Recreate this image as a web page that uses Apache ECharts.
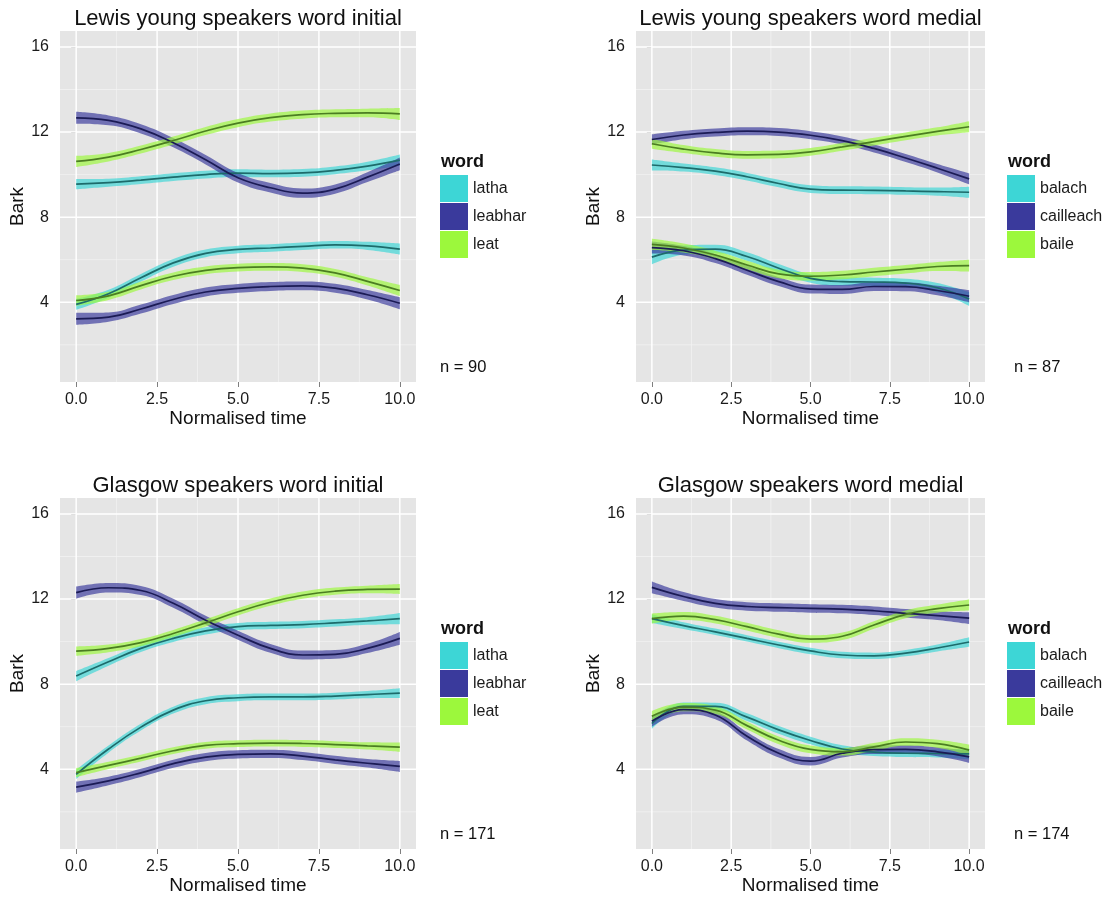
<!DOCTYPE html>
<html>
<head>
<meta charset="utf-8">
<script src="https://cdn.jsdelivr.net/npm/echarts@6/dist/echarts.min.js"></script>
<style>
  html, body { margin: 0; padding: 0; background: #ffffff; }
  #chart { width: 1111px; height: 897px; }
</style>
</head>
<body>
<div id="chart"></div>
<script>
// Normalised time steps (shared by every curve)
const timeSteps = [0, 1, 2, 3, 4, 5, 6, 7, 8, 9, 10];

// Axis ticks and grid lines
const xMajorTicks = [0, 2.5, 5, 7.5, 10];
const xMinorTicks = [1.25, 3.75, 6.25, 8.75];
const yMajorTicks = [4, 8, 12, 16];
const yMinorTicks = [2, 6, 10, 14];

// Word sets
const initialWords = ['latha', 'leabhar', 'leat'];
const medialWords = ['balach', 'cailleach', 'baile'];

// Lewis young speakers, word initial (Bark); *Se = half width of the confidence band
const lewisInitLathaF2 = [9.55, 9.62, 9.74, 9.88, 10.0, 10.07, 10.05, 10.08, 10.2, 10.4, 10.68];
const lewisInitLathaF2Se = [0.24, 0.19, 0.18, 0.18, 0.18, 0.18, 0.18, 0.18, 0.18, 0.2, 0.26];
const lewisInitLeabharF2 = [12.67, 12.55, 12.15, 11.5, 10.7, 9.85, 9.38, 9.13, 9.32, 9.88, 10.5];
const lewisInitLeabharF2Se = [0.28, 0.23, 0.22, 0.22, 0.22, 0.22, 0.22, 0.22, 0.22, 0.23, 0.3];
const lewisInitLeatF2 = [10.62, 10.82, 11.18, 11.6, 12.05, 12.42, 12.68, 12.82, 12.88, 12.9, 12.85];
const lewisInitLeatF2Se = [0.26, 0.2, 0.19, 0.19, 0.19, 0.19, 0.19, 0.19, 0.19, 0.2, 0.28];
const lewisInitLathaF1 = [3.9, 4.4, 5.15, 5.85, 6.3, 6.48, 6.55, 6.63, 6.7, 6.65, 6.5];
const lewisInitLathaF1Se = [0.26, 0.19, 0.18, 0.18, 0.18, 0.18, 0.18, 0.18, 0.18, 0.19, 0.26];
const lewisInitLeabharF1 = [3.22, 3.3, 3.68, 4.13, 4.48, 4.65, 4.74, 4.77, 4.66, 4.35, 3.95];
const lewisInitLeabharF1Se = [0.28, 0.22, 0.21, 0.21, 0.21, 0.21, 0.21, 0.21, 0.21, 0.22, 0.28];
const lewisInitLeatF1 = [4.08, 4.3, 4.78, 5.22, 5.5, 5.63, 5.66, 5.6, 5.38, 4.98, 4.55];
const lewisInitLeatF1Se = [0.24, 0.19, 0.18, 0.18, 0.18, 0.18, 0.18, 0.18, 0.18, 0.19, 0.26];

// Lewis young speakers, word medial
const lewisMedBalachF2 = [10.45, 10.33, 10.16, 9.9, 9.58, 9.32, 9.27, 9.26, 9.23, 9.2, 9.17];
const lewisMedBalachF2Se = [0.26, 0.19, 0.18, 0.18, 0.18, 0.18, 0.18, 0.18, 0.18, 0.19, 0.26];
const lewisMedCailleachF2 = [11.65, 11.86, 11.98, 12.04, 12.0, 11.85, 11.6, 11.23, 10.78, 10.3, 9.8];
const lewisMedCailleachF2Se = [0.24, 0.2, 0.19, 0.19, 0.19, 0.19, 0.19, 0.19, 0.19, 0.2, 0.26];
const lewisMedBaileF2 = [11.45, 11.2, 11.02, 10.93, 10.95, 11.07, 11.3, 11.55, 11.8, 12.03, 12.25];
const lewisMedBaileF2Se = [0.24, 0.19, 0.18, 0.18, 0.18, 0.18, 0.18, 0.18, 0.18, 0.19, 0.26];
const lewisMedBalachF1 = [6.12, 6.45, 6.5, 6.15, 5.6, 5.12, 4.97, 4.95, 4.9, 4.68, 4.15];
const lewisMedBalachF1Se = [0.34, 0.22, 0.2, 0.2, 0.2, 0.2, 0.2, 0.2, 0.2, 0.22, 0.32];
const lewisMedCailleachF1 = [6.57, 6.42, 6.05, 5.5, 4.97, 4.62, 4.6, 4.74, 4.73, 4.55, 4.28];
const lewisMedCailleachF1Se = [0.28, 0.22, 0.21, 0.21, 0.21, 0.21, 0.21, 0.21, 0.21, 0.22, 0.28];
const lewisMedBaileF1 = [6.72, 6.55, 6.22, 5.75, 5.33, 5.22, 5.28, 5.42, 5.55, 5.68, 5.72];
const lewisMedBaileF1Se = [0.26, 0.21, 0.2, 0.2, 0.2, 0.2, 0.2, 0.2, 0.2, 0.21, 0.28];

// Glasgow speakers, word initial
const glasInitLathaF2 = [8.38, 9.05, 9.68, 10.15, 10.5, 10.7, 10.76, 10.8, 10.88, 10.97, 11.08];
const glasInitLathaF2Se = [0.24, 0.18, 0.17, 0.17, 0.17, 0.17, 0.17, 0.17, 0.17, 0.18, 0.26];
const glasInitLeabharF2 = [12.3, 12.53, 12.4, 11.8, 11.0, 10.3, 9.68, 9.37, 9.4, 9.68, 10.15];
const glasInitLeabharF2Se = [0.28, 0.22, 0.21, 0.21, 0.21, 0.21, 0.21, 0.21, 0.21, 0.22, 0.3];
const glasInitLeatF2 = [9.55, 9.68, 9.95, 10.38, 10.88, 11.4, 11.85, 12.18, 12.37, 12.45, 12.47];
const glasInitLeatF2Se = [0.22, 0.18, 0.17, 0.17, 0.17, 0.17, 0.17, 0.17, 0.17, 0.18, 0.24];
const glasInitLathaF1 = [3.76, 4.95, 5.98, 6.78, 7.22, 7.36, 7.4, 7.4, 7.44, 7.51, 7.58];
const glasInitLathaF1Se = [0.22, 0.17, 0.16, 0.16, 0.16, 0.16, 0.16, 0.16, 0.16, 0.17, 0.23];
const glasInitLeabharF1 = [3.16, 3.45, 3.83, 4.26, 4.57, 4.7, 4.72, 4.62, 4.44, 4.28, 4.13];
const glasInitLeabharF1Se = [0.26, 0.2, 0.19, 0.19, 0.19, 0.19, 0.19, 0.19, 0.19, 0.2, 0.26];
const glasInitLeatF1 = [3.84, 4.18, 4.52, 4.87, 5.12, 5.2, 5.23, 5.21, 5.16, 5.1, 5.04];
const glasInitLeatF1Se = [0.21, 0.17, 0.16, 0.16, 0.16, 0.16, 0.16, 0.16, 0.16, 0.17, 0.22];

// Glasgow speakers, word medial
const glasMedBalachF2 = [11.08, 10.75, 10.46, 10.15, 9.84, 9.56, 9.37, 9.33, 9.46, 9.7, 9.98];
const glasMedBalachF2Se = [0.21, 0.16, 0.15, 0.15, 0.15, 0.15, 0.15, 0.15, 0.15, 0.16, 0.22];
const glasMedCailleachF2 = [12.55, 12.12, 11.8, 11.65, 11.6, 11.56, 11.53, 11.45, 11.33, 11.22, 11.1];
const glasMedCailleachF2Se = [0.28, 0.21, 0.2, 0.2, 0.2, 0.2, 0.2, 0.2, 0.2, 0.21, 0.28];
const glasMedBaileF2 = [11.08, 11.2, 11.03, 10.7, 10.35, 10.12, 10.25, 10.78, 11.28, 11.55, 11.72];
const glasMedBaileF2Se = [0.24, 0.19, 0.18, 0.18, 0.18, 0.18, 0.18, 0.18, 0.18, 0.19, 0.26];
const glasMedBalachF1 = [6.15, 6.95, 6.95, 6.45, 5.85, 5.35, 4.95, 4.8, 4.75, 4.74, 4.72];
const glasMedBalachF1Se = [0.26, 0.19, 0.18, 0.18, 0.18, 0.18, 0.18, 0.18, 0.18, 0.19, 0.26];
const glasMedCailleachF1 = [6.26, 6.8, 6.55, 5.55, 4.75, 4.38, 4.75, 4.92, 4.93, 4.82, 4.58];
const glasMedCailleachF1Se = [0.26, 0.21, 0.2, 0.2, 0.2, 0.2, 0.2, 0.2, 0.2, 0.21, 0.28];
const glasMedBaileF1 = [6.49, 6.92, 6.78, 6.05, 5.36, 4.93, 4.82, 5.05, 5.28, 5.2, 4.9];
const glasMedBaileF1Se = [0.24, 0.19, 0.18, 0.18, 0.18, 0.18, 0.18, 0.18, 0.18, 0.19, 0.26];

// Sample sizes
const sampleSizes = [90, 87, 171, 174];

// Palette: key/band fill and darker line colour per word position
const fillColors = ['#3DD6D6', '#3A3A9C', '#9CF83C'];
const lineColors = ['#1D6B6B', '#1B1B55', '#4B7D22'];

const FONT = '"Liberation Sans", Arial, Helvetica, sans-serif';

const panels = [
  {
    title: 'Lewis young speakers word initial', words: initialWords,
    curves: [
      [0, lewisInitLathaF2, lewisInitLathaF2Se], [0, lewisInitLathaF1, lewisInitLathaF1Se],
      [1, lewisInitLeabharF2, lewisInitLeabharF2Se], [1, lewisInitLeabharF1, lewisInitLeabharF1Se],
      [2, lewisInitLeatF2, lewisInitLeatF2Se], [2, lewisInitLeatF1, lewisInitLeatF1Se]
    ],
    rect: { left: 60, top: 31, width: 356, height: 351 }, legendX: 440, nX: 440
  },
  {
    title: 'Lewis young speakers word medial', words: medialWords,
    curves: [
      [0, lewisMedBalachF2, lewisMedBalachF2Se], [0, lewisMedBalachF1, lewisMedBalachF1Se],
      [1, lewisMedCailleachF2, lewisMedCailleachF2Se], [1, lewisMedCailleachF1, lewisMedCailleachF1Se],
      [2, lewisMedBaileF2, lewisMedBaileF2Se], [2, lewisMedBaileF1, lewisMedBaileF1Se]
    ],
    rect: { left: 636, top: 31, width: 349, height: 351 }, legendX: 1007, nX: 1014
  },
  {
    title: 'Glasgow speakers word initial', words: initialWords,
    curves: [
      [0, glasInitLathaF2, glasInitLathaF2Se], [0, glasInitLathaF1, glasInitLathaF1Se],
      [1, glasInitLeabharF2, glasInitLeabharF2Se], [1, glasInitLeabharF1, glasInitLeabharF1Se],
      [2, glasInitLeatF2, glasInitLeatF2Se], [2, glasInitLeatF1, glasInitLeatF1Se]
    ],
    rect: { left: 60, top: 498, width: 356, height: 351 }, legendX: 440, nX: 440
  },
  {
    title: 'Glasgow speakers word medial', words: medialWords,
    curves: [
      [0, glasMedBalachF2, glasMedBalachF2Se], [0, glasMedBalachF1, glasMedBalachF1Se],
      [1, glasMedCailleachF2, glasMedCailleachF2Se], [1, glasMedCailleachF1, glasMedCailleachF1Se],
      [2, glasMedBaileF2, glasMedBaileF2Se], [2, glasMedBaileF1, glasMedBaileF1Se]
    ],
    rect: { left: 636, top: 498, width: 349, height: 351 }, legendX: 1007, nX: 1014
  }
];

const grids = [], xAxes = [], yAxes = [], series = [], legends = [], graphics = [];
const N = panels.length;

// straight grid line drawn through the value axes
function gridLineSeries(g, values, horizontal, color, width, z) {
  return {
    type: 'custom', xAxisIndex: N + g, yAxisIndex: g, silent: true, z: z,
    animation: false,
    data: values.map(v => horizontal ? [5, v] : [v, 8]),
    renderItem: function (params, api) {
      const cs = params.coordSys;
      const p = api.coord([api.value(0), api.value(1)]);
      const shape = horizontal
        ? { x1: cs.x, y1: p[1], x2: cs.x + cs.width, y2: p[1] }
        : { x1: p[0], y1: cs.y, x2: p[0], y2: cs.y + cs.height };
      return { type: 'line', shape: shape, style: { stroke: color, lineWidth: width } };
    }
  };
}

panels.forEach((p, g) => {
  const dy = p.rect.top - 31;
  grids.push(Object.assign({ show: true, backgroundColor: '#E5E5E5', borderWidth: 0, containLabel: false }, p.rect));

  yAxes.push({
    type: 'value', gridIndex: g, min: 0.25, max: 16.75,
    name: 'Bark', nameLocation: 'middle', nameGap: 32,
    nameTextStyle: { fontFamily: FONT, fontSize: 19, color: '#111' },
    axisLine: { show: false },
    axisTick: { show: true, length: 5, customValues: yMajorTicks, lineStyle: { color: '#7F7F7F', width: 1 } },
    axisLabel: { customValues: yMajorTicks, margin: 11, fontFamily: FONT, fontSize: 16, color: '#1A1A1A' },
    splitLine: { show: false }
  });

  series.push(gridLineSeries(g, yMinorTicks, true, '#F2F2F2', 0.8, 1));
  series.push(gridLineSeries(g, xMinorTicks, false, '#F2F2F2', 0.8, 1));
  series.push(gridLineSeries(g, yMajorTicks, true, '#FFFFFF', 1.5, 1.5));
  series.push(gridLineSeries(g, xMajorTicks, false, '#FFFFFF', 1.5, 1.5));

  p.curves.forEach((c, k) => {
    const wi = c[0], mean = c[1], se = c[2];
    const word = p.words[wi];
    const stackKey = 'band-' + g + '-' + k;
    const common = {
      type: 'line', xAxisIndex: g, yAxisIndex: g, smooth: 0.45, symbol: 'none',
      showSymbol: false, silent: true, animation: false, z: 2
    };
    series.push(Object.assign({}, common, {
      name: word + ' lower', stack: stackKey,
      lineStyle: { opacity: 0, width: 0 },
      data: mean.map((m, i) => +(m - se[i]).toFixed(3))
    }));
    series.push(Object.assign({}, common, {
      name: word + ' band', stack: stackKey,
      lineStyle: { opacity: 0, width: 0 },
      areaStyle: { color: fillColors[wi], opacity: 0.68 },
      data: se.map(s => +(2 * s).toFixed(3))
    }));
    series.push(Object.assign({}, common, {
      name: word,
      itemStyle: { color: fillColors[wi] },
      lineStyle: { color: lineColors[wi], width: 1.7 },
      data: mean
    }));
  });

  legends.push({
    orient: 'vertical', left: p.legendX, top: 175 + dy, padding: 0,
    itemWidth: 28, itemHeight: 27, itemGap: 1, icon: 'rect', selectedMode: false,
    textStyle: { fontFamily: FONT, fontSize: 16, color: '#1A1A1A' },
    data: p.words.map((w, i) => ({ name: w, icon: 'rect', itemStyle: { color: fillColors[i], borderWidth: 0 } }))
  });

  const cx = p.rect.left + p.rect.width / 2;
  graphics.push({
    type: 'text', x: cx, y: 18.5 + dy, silent: true,
    style: { text: p.title, fill: '#111', font: '22px ' + FONT, align: 'center', verticalAlign: 'middle' }
  });
  graphics.push({
    type: 'text', x: p.legendX + 1, y: 162.5 + dy, silent: true,
    style: { text: 'word', fill: '#111', font: 'bold 18px ' + FONT, align: 'left', verticalAlign: 'middle' }
  });
  graphics.push({
    type: 'text', x: p.nX, y: 367 + dy, silent: true,
    style: { text: 'n = ' + sampleSizes[g], fill: '#111', font: '16.5px ' + FONT, align: 'left', verticalAlign: 'middle' }
  });
});

// hidden category axes carry the curves; visible value axes carry ticks and labels
panels.forEach((p, g) => {
  xAxes.push({
    type: 'category', gridIndex: g, data: timeSteps, boundaryGap: true, show: false
  });
});
panels.forEach((p, g) => {
  xAxes.push({
    type: 'value', gridIndex: g, min: -0.5, max: 10.5, position: 'bottom',
    name: 'Normalised time', nameLocation: 'middle', nameGap: 26,
    nameTextStyle: { fontFamily: FONT, fontSize: 19, color: '#111' },
    axisLine: { show: false },
    axisTick: { show: true, length: 5, customValues: xMajorTicks, lineStyle: { color: '#7F7F7F', width: 1 } },
    axisLabel: {
      customValues: xMajorTicks, margin: 10, fontFamily: FONT, fontSize: 16, color: '#1A1A1A',
      formatter: v => Number(v).toFixed(1)
    },
    splitLine: { show: false }
  });
});

const chart = echarts.init(document.getElementById('chart'), null, { renderer: 'canvas' });
chart.setOption({
  backgroundColor: '#FFFFFF',
  animation: false,
  grid: grids,
  xAxis: xAxes,
  yAxis: yAxes,
  legend: legends,
  graphic: graphics,
  series: series
});
</script>
</body>
</html>
